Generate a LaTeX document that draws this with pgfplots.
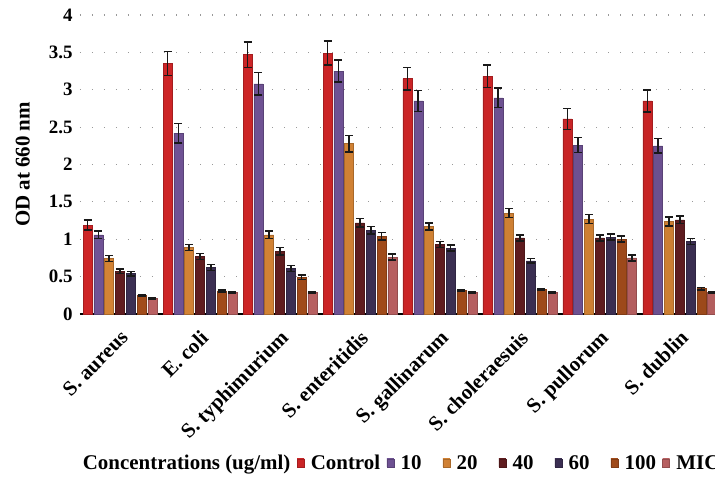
\documentclass[border=0pt]{standalone}
\usepackage{fontspec}
\setmainfont{Liberation Serif}
\usepackage{pgfplots}
\usepackage{pgfplotstable}
\pgfplotsset{compat=1.18}

\definecolor{cCtrl}{HTML}{EA2A2C}
\definecolor{cTen}{HTML}{7F5EA9}
\definecolor{cTwenty}{HTML}{F0953C}
\definecolor{cForty}{HTML}{6E2124}
\definecolor{cSixty}{HTML}{44365F}
\definecolor{cHundred}{HTML}{B8561E}
\definecolor{cMIC}{HTML}{D26E6F}

% shaded bar look
\pgfplotsset{
    odbar/.style={draw=#1!70!black, line width=0.5bp,
        left color=#1!88!black, middle color=#1!94!white, right color=#1!85!black},
}

% OD at 660 nm, mean and error per concentration
\pgfplotstableread{
x  c    ce    t10  e10   t20  e20   t40  e40   t60  e60   t100 e100  mic  emic
0  1.19 0.07  1.06 0.05  0.74 0.04  0.57 0.03  0.54 0.03  0.25 0.012 0.21 0.012
1  3.35 0.16  2.42 0.13  0.89 0.04  0.77 0.04  0.62 0.04  0.31 0.012 0.29 0.010
2  3.47 0.17  3.08 0.15  1.06 0.05  0.84 0.05  0.61 0.04  0.49 0.03  0.29 0.010
3  3.49 0.16  3.25 0.15  2.28 0.11  1.22 0.06  1.12 0.05  1.04 0.05  0.76 0.04
4  3.15 0.15  2.85 0.14  1.17 0.05  0.93 0.04  0.88 0.04  0.32 0.010 0.29 0.010
5  3.18 0.15  2.89 0.13  1.35 0.06  1.02 0.04  0.71 0.03  0.33 0.010 0.29 0.010
6  2.61 0.14  2.26 0.10  1.27 0.06  1.02 0.04  1.03 0.04  1.00 0.04  0.75 0.04
7  2.85 0.15  2.25 0.10  1.24 0.06  1.26 0.05  0.97 0.04  0.34 0.015 0.29 0.010
}\oddata

\begin{document}
\begin{tikzpicture}
\begin{axis}[
    scale only axis,
    width=635bp, height=299bp,
    ybar=1.8bp, bar width=9bp,
    xmin=-0.5, xmax=7.44,
    ymin=0, ymax=4,
    ytick={0,0.5,...,4},
    yticklabels={0,0.5,1,1.5,2,2.5,3,3.5,4},
    xtick=data,
    xticklabels={S. aureus,E. coli,S. typhimurium,S. enteritidis,S. gallinarum,S. choleraesuis,S. pullorum,S. dublin},
    axis x line*=bottom, axis y line*=left,
    x axis line style={-, line width=1.8bp},
    y axis line style={draw=none},
    tick style={draw=none},
    major tick length=0pt,
    ymajorgrids,
    grid style={gray!80, line width=1.2bp, dash pattern=on 1.2bp off 10.8bp},
    /pgf/number format/assume math mode=true,
    yticklabel style={font=\bfseries\fontsize{19}{19}\selectfont, xshift=-4bp},
    xticklabel style={font=\bfseries\fontsize{21}{21}\selectfont, rotate=45, anchor=north east, inner sep=0pt, xshift=-11bp, yshift=-10bp},
    ylabel={OD at 660 nm},
    ylabel style={font=\bfseries\fontsize{21}{21}\selectfont, at={(axis description cs:-0.09,0.5)}, anchor=center},
    error bars/y dir=both,
    error bars/y explicit,
    error bars/error bar style={black!90, line width=1.6bp},
    error bars/error mark=-,
    error bars/error mark options={black!90, rotate=90, line width=1.6bp, mark size=4bp},
    legend columns=-1,
    legend image code/.code={\fill[#1] (0bp,-4bp) rectangle (7bp,4bp);},
    legend style={draw=none, fill=none, at={(axis description cs:-0.006,-0.498)}, anchor=west,
        font=\bfseries\fontsize{21}{21}\selectfont, column sep=4.5bp, inner sep=0pt},
]
\addlegendimage{empty legend}
\addlegendentry{Concentrations (ug/ml)}
\addplot[odbar=cCtrl] table[x=x, y=c, y error=ce] {\oddata};
\addlegendentry{Control}
\addplot[odbar=cTen] table[x=x, y=t10, y error=e10] {\oddata};
\addlegendentry{\makebox[35.5bp][l]{10}}
\addplot[odbar=cTwenty] table[x=x, y=t20, y error=e20] {\oddata};
\addlegendentry{\makebox[35.5bp][l]{20}}
\addplot[odbar=cForty] table[x=x, y=t40, y error=e40] {\oddata};
\addlegendentry{\makebox[35.5bp][l]{40}}
\addplot[odbar=cSixty] table[x=x, y=t60, y error=e60] {\oddata};
\addlegendentry{\makebox[35.5bp][l]{60}}
\addplot[odbar=cHundred] table[x=x, y=t100, y error=e100] {\oddata};
\addlegendentry{100}
\addplot[odbar=cMIC] table[x=x, y=mic, y error=emic] {\oddata};
\addlegendentry{MIC}
\end{axis}
\pgfresetboundingbox
\useasboundingbox (-80bp,-165bp) rectangle (635bp,314bp);
\end{tikzpicture}
\end{document}
